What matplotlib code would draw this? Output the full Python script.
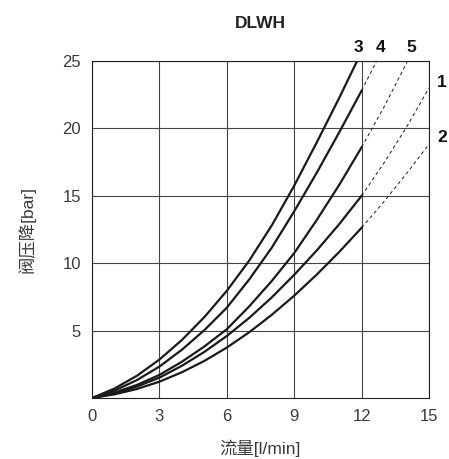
import matplotlib
matplotlib.use("Agg")
import matplotlib.pyplot as plt

# flow [l/min] and pressure drop [bar]
x_solid = [0, 1, 2, 3, 4, 5, 6, 7, 8, 9, 10, 11, 12]

c3_x = [0, 1, 2, 3, 4, 5, 6, 7, 8, 9, 10, 11, 11.8]
c3_y = [0, 0.7, 1.65, 2.85, 4.3, 6.0, 7.95, 10.2, 12.8, 15.75, 18.95, 22.25, 25.0]

c4_y = [0, 0.55, 1.33, 2.33, 3.58, 5.03, 6.7, 8.8, 11.15, 13.85, 16.7, 19.7, 22.8]
c4_dx = [12, 12.35, 12.67]
c4_dy = [22.8, 23.95, 25.0]

c5_y = [0, 0.4, 0.97, 1.71, 2.69, 3.82, 5.1, 6.8, 8.68, 10.75, 13.2, 15.8, 18.6]
c5_dx = [12, 13, 14, 14.05]
c5_dy = [18.6, 21.6, 24.85, 25.0]

c1_y = [0, 0.35, 0.85, 1.51, 2.39, 3.42, 4.6, 5.95, 7.46, 9.14, 10.94, 12.89, 15.0]
c1_dx = [12, 13, 14, 15]
c1_dy = [15.0, 17.45, 20.1, 23.0]

c2_y = [0, 0.27, 0.67, 1.21, 1.91, 2.75, 3.74, 4.88, 6.17, 7.59, 9.15, 10.83, 12.63]
c2_dx = [12, 13, 14, 15]
c2_dy = [12.63, 14.58, 16.65, 18.83]

curve_labels = ["3", "4", "5", "1", "2"]
label_pos = [(11.84, 26.0), (12.86, 26.0), (14.2, 26.0), (15.58, 23.4), (15.58, 19.35)]

xticks = [0, 3, 6, 9, 12, 15]
yticks = [5, 10, 15, 20, 25]

lat = ["Liberation Sans", "Noto Sans CJK SC"]

fig = plt.figure(figsize=(4.49, 4.59), dpi=100)
ax = fig.add_axes([0.2049, 0.1329, 0.7506, 0.7342])

lc = "#1a1a1a"
ax.plot(c3_x, c3_y, color=lc, lw=1.6, solid_capstyle="butt")
for ys in [c4_y, c5_y, c1_y, c2_y]:
    ax.plot(x_solid, ys, color=lc, lw=1.6)
for dx, dy in [(c4_dx, c4_dy), (c5_dx, c5_dy), (c1_dx, c1_dy), (c2_dx, c2_dy)]:
    ax.plot(dx, dy, color=lc, lw=0.7, linestyle=(0, (3.5, 3)))

for lab, (tx, ty) in zip(curve_labels, label_pos):
    ax.text(tx, ty, lab, ha="center", va="center", fontsize=12.5,
            fontweight="bold", family=lat, color="#111111", clip_on=False)

ax.set_xlim(0, 15)
ax.set_ylim(0, 25)
ax.set_xticks(xticks)
ax.set_yticks(yticks)
ax.grid(True, color="#444444", lw=0.8)
ax.set_axisbelow(True)
ax.tick_params(length=0, labelsize=12, labelcolor="#3a3a3a", pad=8)
for lbl in ax.get_xticklabels() + ax.get_yticklabels():
    lbl.set_family(lat)
for sp in ax.spines.values():
    sp.set_color("#222222")
    sp.set_linewidth(0.8)

ax.set_xlabel("流量[l/min]", fontsize=12.5, family=lat, color="#3a3a3a", labelpad=11)
ax.set_ylabel("阀压降[bar]", fontsize=12.5, family=lat, color="#3a3a3a", labelpad=19)
ax.set_title("DLWH", fontsize=12.5, fontweight="bold", family=lat, color="#222222", pad=24)

fig.savefig("out.png", dpi=100)
